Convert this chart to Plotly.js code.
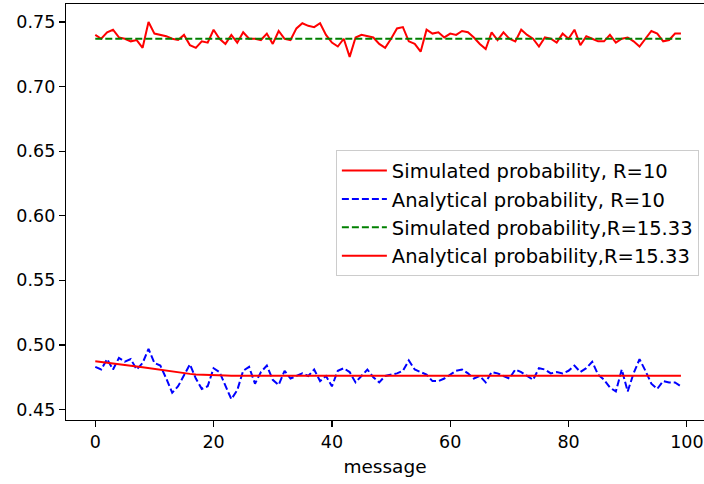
<!DOCTYPE html>
<html>
<head>
<meta charset="utf-8">
<script src="https://cdn.plot.ly/plotly-3.0.1.min.js"></script>
<style>html,body{margin:0;padding:0;background:#fff;}#chart{width:704px;height:484px;}</style>
</head>
<body>
<div id="chart"></div>
<script>
const messages = [0,1,2,3,4,5,6,7,8,9,10,11,12,13,14,15,16,17,18,19,20,21,22,23,24,25,26,27,28,29,30,31,32,33,34,35,36,37,38,39,40,41,42,43,44,45,46,47,48,49,50,51,52,53,54,55,56,57,58,59,60,61,62,63,64,65,66,67,68,69,70,71,72,73,74,75,76,77,78,79,80,81,82,83,84,85,86,87,88,89,90,91,92,93,94,95,96,97,98,99];

const simR10 = [0.740,0.737,0.742,0.744,0.738,0.737,0.735,0.736,0.730,0.750,
0.741,0.740,0.739,0.737,0.736,0.740,0.732,0.730,0.735,0.734,
0.744,0.737,0.733,0.740,0.734,0.742,0.737,0.737,0.736,0.741,
0.733,0.743,0.737,0.736,0.745,0.749,0.747,0.746,0.749,0.740,
0.734,0.731,0.737,0.723,0.738,0.740,0.739,0.738,0.733,0.730,
0.737,0.745,0.746,0.735,0.733,0.727,0.744,0.741,0.742,0.738,
0.741,0.740,0.743,0.742,0.738,0.733,0.729,0.742,0.736,0.742,
0.737,0.735,0.744,0.740,0.737,0.731,0.738,0.737,0.734,0.741,
0.737,0.744,0.732,0.739,0.737,0.735,0.735,0.740,0.734,0.737,
0.738,0.735,0.731,0.737,0.743,0.741,0.735,0.736,0.741,0.741];

const anaR10 = [0.483,0.481,0.489,0.481,0.490,0.487,0.489,0.481,0.486,0.497,
0.486,0.484,0.474,0.463,0.468,0.476,0.485,0.474,0.466,0.468,
0.482,0.479,0.468,0.458,0.465,0.480,0.483,0.470,0.479,0.484,
0.473,0.469,0.480,0.474,0.476,0.478,0.476,0.481,0.472,0.476,
0.468,0.480,0.482,0.479,0.471,0.476,0.481,0.475,0.471,0.476,
0.477,0.478,0.480,0.488,0.481,0.479,0.477,0.472,0.472,0.474,
0.477,0.480,0.481,0.478,0.474,0.476,0.471,0.479,0.478,0.476,
0.474,0.481,0.479,0.476,0.473,0.482,0.481,0.478,0.479,0.478,
0.480,0.484,0.479,0.482,0.487,0.477,0.473,0.467,0.464,0.481,
0.464,0.478,0.489,0.480,0.470,0.466,0.472,0.471,0.471,0.468];

const simR1533 = [0.737,0.737,0.737,0.737,0.737,0.737,0.737,0.737,0.737,0.737,
0.737,0.737,0.737,0.737,0.737,0.737,0.737,0.737,0.737,0.737,
0.737,0.737,0.737,0.737,0.737,0.737,0.737,0.737,0.737,0.737,
0.737,0.737,0.737,0.737,0.737,0.737,0.737,0.737,0.737,0.737,
0.737,0.737,0.737,0.737,0.737,0.737,0.737,0.737,0.737,0.737,
0.737,0.737,0.737,0.737,0.737,0.737,0.737,0.737,0.737,0.737,
0.737,0.737,0.737,0.737,0.737,0.737,0.737,0.737,0.737,0.737,
0.737,0.737,0.737,0.737,0.737,0.737,0.737,0.737,0.737,0.737,
0.737,0.737,0.737,0.737,0.737,0.737,0.737,0.737,0.737,0.737,
0.737,0.737,0.737,0.737,0.737,0.737,0.737,0.737,0.737,0.737];

const anaR1533 = [0.4873,0.4868,0.4864,0.4858,0.4852,0.4846,0.4840,0.4834,0.4827,0.4820,
0.4813,0.4806,0.4799,0.4792,0.4786,0.4780,0.4776,0.4772,0.4769,0.4767,
0.4765,0.4764,0.4763,0.4762,0.4762,0.4761,0.4761,0.4761,0.4761,0.4761,
0.4761,0.4761,0.4761,0.4761,0.4761,0.4761,0.4761,0.4761,0.4761,0.4761,
0.4761,0.4761,0.4761,0.4761,0.4761,0.4761,0.4761,0.4761,0.4761,0.4761,
0.4761,0.4761,0.4761,0.4761,0.4761,0.4761,0.4761,0.4761,0.4761,0.4761,
0.4761,0.4761,0.4761,0.4761,0.4761,0.4761,0.4761,0.4761,0.4761,0.4761,
0.4761,0.4761,0.4761,0.4761,0.4761,0.4761,0.4761,0.4761,0.4761,0.4761,
0.4761,0.4761,0.4761,0.4761,0.4761,0.4761,0.4761,0.4761,0.4761,0.4761,
0.4761,0.4761,0.4761,0.4761,0.4761,0.4761,0.4761,0.4761,0.4761,0.4761];

const seriesNames = ["Simulated probability, R=10","Analytical probability, R=10","Simulated probability,R=15.33","Analytical probability,R=15.33"];
const xTicks = [0,20,40,60,80,100];
const yTicks = [0.45,0.50,0.55,0.60,0.65,0.70,0.75];

const TICKFONT = {family: "DejaVu Sans", size: 17.5, color: "#000"};
const LEGFONT = {family: "DejaVu Sans", size: 19.5, color: "#000"};
const TITLEFONT = {family: "DejaVu Sans", size: 18.5, color: "#000"};

const traces = [
  {x: messages, y: simR10, name: seriesNames[0], mode: "lines",
   line: {color: "#ff0000", width: 2}},
  {x: messages, y: anaR10, name: seriesNames[1], mode: "lines",
   line: {color: "#0000ff", width: 2, dash: "7px,3px"}},
  {x: messages, y: simR1533, name: seriesNames[2], mode: "lines",
   line: {color: "#008000", width: 2, dash: "7px,3px"}},
  {x: messages, y: anaR1533, name: seriesNames[3], mode: "lines",
   line: {color: "#ff0000", width: 2}}
];

const layout = {
  width: 704, height: 484,
  margin: {l: 66, r: 0, t: 4, b: 64},
  paper_bgcolor: "#fff", plot_bgcolor: "#fff",
  font: TICKFONT,
  showlegend: true,
  legend: {
    x: 0.423, y: 0.648, xanchor: "left", yanchor: "top",
    bgcolor: "rgba(255,255,255,0.8)", bordercolor: "#cccccc", borderwidth: 1,
    font: LEGFONT, itemwidth: 45
  },
  xaxis: {
    range: [-4.95, 102.9], tickvals: xTicks, ticktext: xTicks.map(String),
    ticks: "outside", ticklen: 6, tickwidth: 1.2, tickcolor: "#000",
    tickfont: TICKFONT,
    showline: true, linecolor: "#000", linewidth: 1.2, mirror: true,
    showgrid: false, zeroline: false,
    title: {text: "message", font: TITLEFONT, standoff: 8}
  },
  yaxis: {
    range: [0.4419, 0.7639], tickvals: yTicks, ticktext: yTicks.map(v => v.toFixed(2)),
    ticks: "outside", ticklen: 6, tickwidth: 1.2, tickcolor: "#000",
    tickfont: TICKFONT,
    showline: true, linecolor: "#000", linewidth: 1.2, mirror: false,
    showgrid: false, zeroline: false
  }
};

Plotly.newPlot("chart", traces, layout, {displayModeBar: false, staticPlot: true});
</script>
</body>
</html>
